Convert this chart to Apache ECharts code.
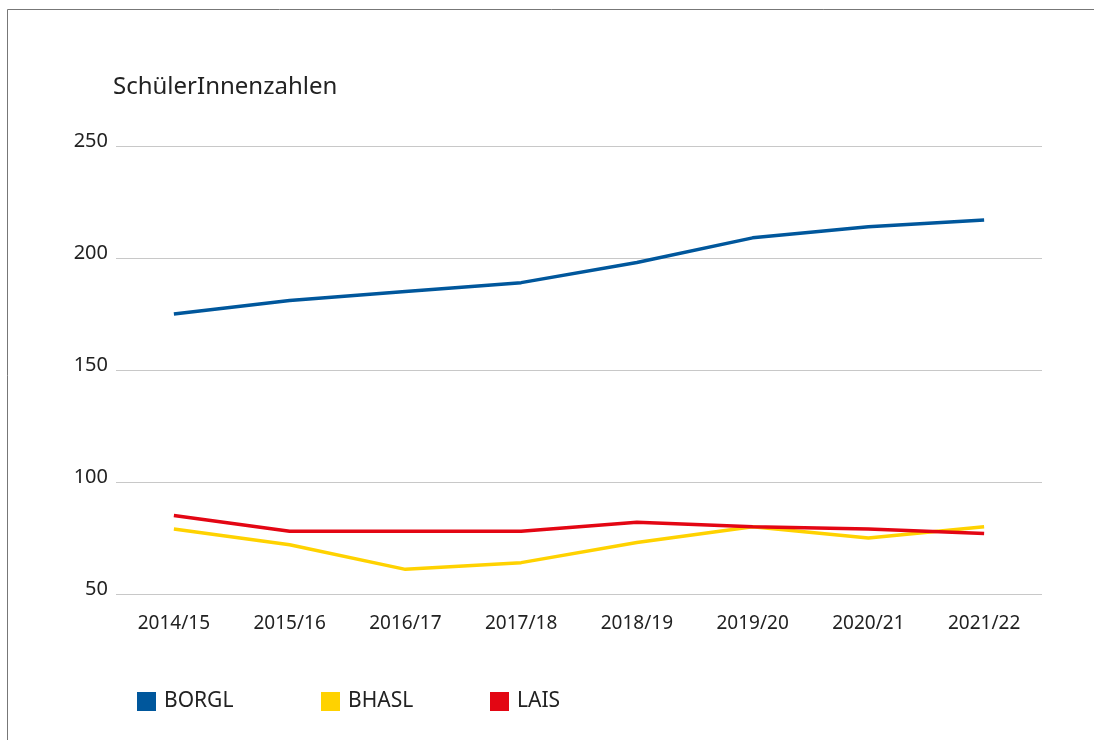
<!DOCTYPE html>
<html>
<head>
<meta charset="utf-8">
<script src="https://cdn.jsdelivr.net/npm/echarts@6/dist/echarts.min.js"></script>
<style>
  html, body { margin: 0; padding: 0; background: #fff; }
  #chart { width: 1094px; height: 740px; }
</style>
</head>
<body>
<div id="chart"></div>
<script>
// Schuljahre
const years = ['2014/15', '2015/16', '2016/17', '2017/18', '2018/19', '2019/20', '2020/21', '2021/22'];
// SchülerInnenzahlen je Schule
const borgl = [175, 181, 185, 189, 198, 209, 214, 217];
const bhasl = [79, 72, 61, 64, 73, 80, 75, 80];
const lais = [85, 78, 78, 78, 82, 80, 79, 77];

const font = '"Noto Sans", sans-serif';
const chart = echarts.init(document.getElementById('chart'));

function legendAt(name, left) {
  return {
    data: [name],
    left: left,
    top: 686,
    icon: 'rect',
    itemWidth: 19,
    itemHeight: 19,
    itemGap: 0,
    textStyle: { fontFamily: font, fontSize: 21, color: '#222', padding: [0, 0, 0, 3] }
  };
}

chart.setOption({
  backgroundColor: '#fff',
  animation: false,
  title: {
    text: 'SchülerInnenzahlen',
    left: 108,
    top: 70,
    textStyle: { fontFamily: font, fontSize: 24, fontWeight: 'normal', color: '#222' }
  },
  graphic: [{
    type: 'rect',
    shape: { x: 7.5, y: 9.5, width: 1100, height: 740 },
    style: { fill: 'none', stroke: '#777', lineWidth: 1 },
    silent: true
  }],
  legend: [legendAt('BORGL', 132), legendAt('BHASL', 316), legendAt('LAIS', 485)],
  grid: { left: 116, right: 52, top: 146, bottom: 146 },
  xAxis: {
    type: 'category',
    data: years,
    boundaryGap: true,
    axisLine: { show: false },
    axisTick: { show: false },
    axisLabel: { fontFamily: font, fontSize: 19, color: '#222', margin: 20 }
  },
  yAxis: {
    type: 'value',
    min: 50,
    max: 250,
    interval: 50,
    axisLine: { show: false },
    axisTick: { show: false },
    axisLabel: { fontFamily: font, fontSize: 20, color: '#222', margin: 8, verticalAlign: 'bottom', lineHeight: 10 },
    splitLine: { lineStyle: { color: '#c8c8c8', width: 1 } }
  },
  series: [
    { name: 'BORGL', type: 'line', data: borgl, symbol: 'none', itemStyle: { color: '#00579c' }, lineStyle: { width: 3.5, color: '#00579c' } },
    { name: 'BHASL', type: 'line', data: bhasl, symbol: 'none', itemStyle: { color: '#ffd200' }, lineStyle: { width: 3.5, color: '#ffd200' } },
    { name: 'LAIS', type: 'line', data: lais, symbol: 'none', itemStyle: { color: '#e30613' }, lineStyle: { width: 3.5, color: '#e30613' } }
  ]
});
</script>
</body>
</html>
